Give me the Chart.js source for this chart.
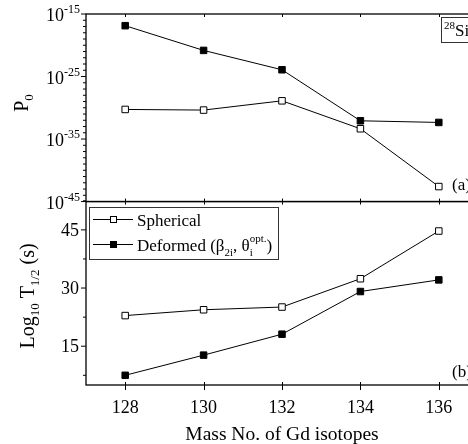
<!DOCTYPE html>
<html>
<head>
<meta charset="utf-8">
<script src="https://cdn.jsdelivr.net/npm/chart.js@4/dist/chart.umd.min.js"></script>
<style>
  html, body { margin: 0; padding: 0; background: #fff; overflow: hidden; width: 468px; height: 444px; }
  #wrap { position: absolute; left: 0; top: 0; width: 500px; height: 444px; }
</style>
</head>
<body>
<div id="wrap"><canvas id="c" width="500" height="444"></canvas></div>
<script>
// ---- data ----
const massNumbers = [128, 130, 132, 134, 136];
const p0Spherical = [5.4e-31, 4.3e-31, 1.3e-29, 4.4e-34, 2.5e-43];
const p0Deformed = [1.35e-17, 1.5e-21, 1.2e-24, 8.3e-33, 4.5e-33];
const logTSpherical = [22.9, 24.4, 25.1, 32.4, 44.7];
const logTDeformed = [7.5, 12.7, 18.1, 29.1, 32.1];
const xTickValues = [128, 130, 132, 134, 136];
const p0MajorExponents = [-15, -25, -35, -45];
const p0MinorExponents = [-16,-17,-18,-19,-20,-21,-22,-23,-24,-26,-27,-28,-29,-30,-31,-32,-33,-34,-36,-37,-38,-39,-40,-41,-42,-43,-44];
const logTMajorTicks = [15, 30, 45];
const logTMinorTicks = [7.5, 22.5, 37.5, 52.5];
const seriesNames = ['Spherical', 'Deformed'];

const FONT = '"Liberation Serif", "Times New Roman", serif';

function pts(xs, ys) { return xs.map((x, i) => ({ x: x, y: ys[i] })); }

function drawRich(ctx, parts, x, y, align) {
  let total = 0, cur = 0;
  for (const p of parts) {
    ctx.font = p.s + 'px ' + FONT;
    const w = ctx.measureText(p.t).width;
    total = Math.max(total, cur + w);
    if (!p.noAdv) cur += w;
  }
  let sx = x;
  if (align === 'right') sx = x - total;
  else if (align === 'center') sx = x - total / 2;
  ctx.textAlign = 'left';
  ctx.textBaseline = 'alphabetic';
  cur = sx;
  for (const p of parts) {
    ctx.font = p.s + 'px ' + FONT;
    ctx.fillText(p.t, cur, y + (p.dy || 0));
    if (!p.noAdv) cur += ctx.measureText(p.t).width;
  }
}

const decor = {
  id: 'decor',
  afterDraw(chart) {
    const ctx = chart.ctx;
    const xs = chart.scales.x;
    const yT = chart.scales.yTop;
    const yB = chart.scales.yBot;
    const L = chart.chartArea.left, R = chart.chartArea.right;
    const top = yT.top, mid = yT.bottom, bot = yB.bottom;
    ctx.save();
    ctx.strokeStyle = '#000';
    ctx.fillStyle = '#000';
    ctx.lineWidth = 1.3;
    ctx.strokeRect(L, top, R - L, mid - top);
    ctx.strokeRect(L, mid, R - L, bot - mid);
    ctx.lineWidth = 1;
    ctx.beginPath();
    for (const v of xTickValues) {
      const px = Math.round(xs.getPixelForValue(v)) + 0.5;
      ctx.moveTo(px, top); ctx.lineTo(px, top + 3);
      ctx.moveTo(px, mid - 3); ctx.lineTo(px, mid + 3);
      ctx.moveTo(px, bot - 3); ctx.lineTo(px, bot + 5);
    }
    for (const e of p0MajorExponents) {
      const py = yT.getPixelForValue(Math.pow(10, e));
      ctx.moveTo(L - 5, py); ctx.lineTo(L, py);
    }
    for (const e of p0MinorExponents) {
      const py = yT.getPixelForValue(Math.pow(10, e));
      ctx.moveTo(L - 3, py); ctx.lineTo(L, py);
    }
    for (const v of logTMajorTicks) {
      const py = yB.getPixelForValue(v);
      ctx.moveTo(L - 5, py); ctx.lineTo(L, py);
    }
    for (const v of logTMinorTicks) {
      const py = yB.getPixelForValue(v);
      ctx.moveTo(L - 3, py); ctx.lineTo(L, py);
    }
    ctx.stroke();

    for (const e of p0MajorExponents) {
      const py = yT.getPixelForValue(Math.pow(10, e));
      drawRich(ctx, [{ t: '10', s: 18 }, { t: String(e), s: 12, dy: -8 }], L - 6, py + 7, 'right');
    }
    for (const v of logTMajorTicks) {
      const py = yB.getPixelForValue(v);
      drawRich(ctx, [{ t: String(v), s: 18 }], L - 7, py + 6, 'right');
    }
    for (const v of xTickValues) {
      const px = xs.getPixelForValue(v);
      drawRich(ctx, [{ t: String(v), s: 18 }], px, bot + 28, 'center');
    }
    drawRich(ctx, [{ t: 'Mass No. of Gd isotopes', s: 19.5 }], (L + 478) / 2, 440, 'center');
    ctx.save();
    ctx.translate(28, 103);
    ctx.rotate(-Math.PI / 2);
    drawRich(ctx, [{ t: 'P', s: 20 }, { t: '0', s: 13, dy: 5 }], 0, 0, 'center');
    ctx.restore();
    ctx.save();
    ctx.translate(34, 296);
    ctx.rotate(-Math.PI / 2);
    drawRich(ctx, [{ t: 'Log', s: 20 }, { t: '10', s: 13, dy: 5 }, { t: ' T', s: 20 }, { t: '1/2', s: 13, dy: 5 }, { t: ' (s)', s: 20 }], 0, 0, 'center');
    ctx.restore();

    drawRich(ctx, [{ t: '(a)', s: 17 }], 452, 190, 'left');
    drawRich(ctx, [{ t: '(b)', s: 17 }], 452, 377, 'left');
    ctx.lineWidth = 1;
    ctx.strokeStyle = '#333';
    ctx.strokeRect(441.5, 17.5, 34, 25);
    ctx.fillStyle = '#000';
    drawRich(ctx, [{ t: '28', s: 11, dy: -7 }, { t: 'Si', s: 17 }], 444, 36, 'left');

    ctx.strokeStyle = '#333';
    ctx.lineWidth = 1;
    ctx.strokeRect(89.5, 207.5, 189, 52);
    const rows = [219.5, 244.5];
    chart.data.datasets.slice(0, 2).forEach((ds, i) => {
      const y = rows[i];
      ctx.strokeStyle = '#000';
      ctx.lineWidth = 1;
      ctx.beginPath(); ctx.moveTo(93, y); ctx.lineTo(133, y); ctx.stroke();
      ctx.fillStyle = ds.pointBackgroundColor;
      ctx.fillRect(110, y - 3.5, 7, 7);
      ctx.strokeRect(110.5, y - 3, 6, 6);
    });
    ctx.fillStyle = '#000';
    drawRich(ctx, [{ t: 'Spherical', s: 17 }], 137, rows[0] + 6, 'left');
    drawRich(ctx, [
      { t: 'Deformed (\u03B2', s: 17 },
      { t: '2i', s: 11, dy: 5 },
      { t: ', \u03B8', s: 17 },
      { t: 'i', s: 11, dy: 5, noAdv: true },
      { t: 'opt.', s: 11, dy: -9 },
      { t: ')', s: 17 }
    ], 137, rows[1] + 6, 'left');
    ctx.restore();
  }
};

const common = {
  borderColor: '#000', borderWidth: 1, pointStyle: 'rect', pointRadius: 4.6,
  pointBorderColor: '#000', pointBorderWidth: 1, tension: 0, clip: false
};

new Chart(document.getElementById('c'), {
  type: 'line',
  data: {
    datasets: [
      Object.assign({ label: seriesNames[0], data: pts(massNumbers, p0Spherical), yAxisID: 'yTop', pointBackgroundColor: '#fff' }, common),
      Object.assign({ label: seriesNames[1], data: pts(massNumbers, p0Deformed), yAxisID: 'yTop', pointBackgroundColor: '#000' }, common),
      Object.assign({ label: seriesNames[0] + ' T', data: pts(massNumbers, logTSpherical), yAxisID: 'yBot', pointBackgroundColor: '#fff' }, common),
      Object.assign({ label: seriesNames[1] + ' T', data: pts(massNumbers, logTDeformed), yAxisID: 'yBot', pointBackgroundColor: '#000' }, common)
    ]
  },
  options: {
    responsive: false,
    animation: false,
    devicePixelRatio: 1,
    layout: { padding: { top: 14, right: 22, left: 0, bottom: 0 } },
    plugins: { legend: { display: false }, tooltip: { enabled: false } },
    scales: {
      x: {
        type: 'linear', min: 127, max: 137,
        ticks: { display: false }, grid: { display: false }, border: { display: false },
        afterFit(s) { s.height = 59; }
      },
      yBot: {
        type: 'linear', position: 'left', stack: 'panels', stackWeight: 183.3,
        min: 5, max: 52.3,
        ticks: { display: false }, grid: { display: false }, border: { display: false },
        afterFit(s) { s.width = 86; }
      },
      yTop: {
        type: 'logarithmic', position: 'left', stack: 'panels', stackWeight: 187.4,
        min: 1e-45, max: 1e-15,
        ticks: { display: false }, grid: { display: false }, border: { display: false },
        afterFit(s) { s.width = 86; }
      }
    }
  },
  plugins: [decor]
});
</script>
</body>
</html>
